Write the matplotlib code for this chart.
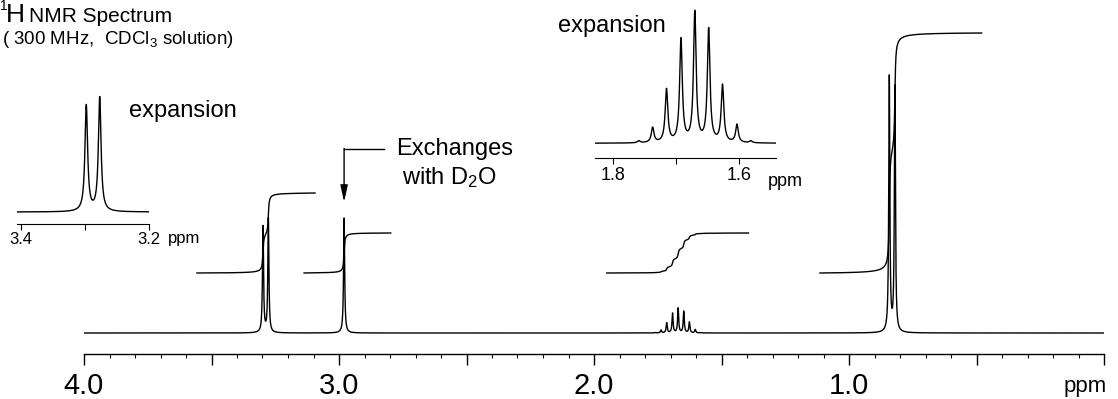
import numpy as np
import matplotlib
matplotlib.use("Agg")
import matplotlib.pyplot as plt
from matplotlib.ticker import MultipleLocator, FixedLocator, FuncFormatter

plt.rcParams['font.family'] = ['Liberation Sans', 'DejaVu Sans']
plt.rcParams['mathtext.fontset'] = 'custom'
plt.rcParams['mathtext.rm'] = 'Liberation Sans'
plt.rcParams['mathtext.it'] = 'Liberation Sans:italic'

# peak list (ppm, height in pixels above baseline)
ch2_ppm = [3.298, 3.277]
ch2_height = [106, 114]
oh_ppm = [2.980]
oh_height = [115]
ch_ppm = [1.759, 1.737, 1.715, 1.692, 1.670, 1.648, 1.626, 1.603, 1.581]
ch_height = [2, 15, 53, 103, 130, 113, 57, 18, 2]   # as seen in the expansion
ch_main_scale = 0.19                                  # main trace vs expansion
ch3_ppm = [0.842, 0.820]
ch3_height = [255, 245]
line_hw = 0.0025   # half width (ppm)

# integrals: region (ppm) and proton count
int_regions = [(3.557, 3.094), (3.137, 2.797), (1.950, 1.394), (1.114, 0.480)]
int_protons = [2, 1, 1, 6]
px_per_H = 40
int_offset = 60

W, H = 1118, 399


def lorentz(x, centers, heights, g=line_hw):
    y = np.zeros_like(x)
    for c, h in zip(centers, heights):
        y += h * g**2 / ((x - c)**2 + g**2)
    return y


def spectrum(x, ch_scale):
    y = lorentz(x, ch2_ppm, ch2_height)
    y += lorentz(x, oh_ppm, oh_height)
    y += lorentz(x, ch_ppm, np.array(ch_height) * ch_scale)
    y += lorentz(x, ch3_ppm, ch3_height)
    return y


def rect(x0, y_top, x1, y_bot):
    return [x0 / W, 1 - y_bot / H, (x1 - x0) / W, (y_bot - y_top) / H]


fig = plt.figure(figsize=(11.18, 3.99), dpi=100)

# ---- main spectrum
ax = fig.add_axes(rect(84, 0, 1104, 354))
x = np.linspace(4.0, 0.0, 40001)
y = spectrum(x, ch_main_scale)
ax.plot(x, y, 'k-', lw=1.0)

for (a, b), n in zip(int_regions, int_protons):
    m = (x <= a) & (x >= b)
    cs = np.cumsum(y[m])
    cs = cs / cs[-1]
    ax.plot(x[m], int_offset + cs * n * px_per_H, 'k-', lw=1.0)

ax.set_xlim(4.0, 0.0)
ax.set_ylim(-21, 333)
for s in ['top', 'left', 'right']:
    ax.spines[s].set_visible(False)
ax.spines['bottom'].set_linewidth(1.0)
ax.set_yticks([])
ax.xaxis.set_major_locator(MultipleLocator(0.5))
ax.xaxis.set_minor_locator(MultipleLocator(0.1))
ax.xaxis.set_major_formatter(FuncFormatter(
    lambda v, p: "%.1f" % v if abs(v - round(v)) < 1e-6 and v > 0.5 else ""))
ax.tick_params(axis='x', which='major', length=8, width=1.0, labelsize=21, pad=5)
ax.tick_params(axis='x', which='minor', length=3.2, width=0.8)
ax.patch.set_visible(False)

# arrow for the exchangeable OH
ax.plot([2.823, oh_ppm[0]], [184, 184], 'k-', lw=1.0)
ax.annotate('', xy=(oh_ppm[0], 131), xytext=(oh_ppm[0], 184.5),
            arrowprops=dict(arrowstyle='-|>,head_length=1.0,head_width=0.22',
                            color='k', lw=1.0, shrinkA=0, shrinkB=0))

# ---- expansion of the CH2 doublet
ax1 = fig.add_axes(rect(16.7, 80, 149, 224))
x1 = np.linspace(3.4067, 3.2, 4001)
ax1.plot(x1, spectrum(x1, ch_main_scale), 'k-', lw=1.0)
ax1.set_xlim(3.4067, 3.2)
ax1.set_ylim(-12, 132)

# ---- expansion of the CH multiplet
ax2 = fig.add_axes(rect(595, 0, 776, 158.3))
x2 = np.linspace(1.8286, 1.541, 4001)
ax2.plot(x2, spectrum(x2, 1.0) - spectrum(x2, 0.0), 'k-', lw=1.0)
ax2.set_xlim(1.8286, 1.541)
ax2.set_ylim(-15, 143.3)

for a_, ticks, labs, fs in [(ax1, [3.4, 3.3, 3.2], ['3.4', '', '3.2'], 12),
                            (ax2, [1.8, 1.7, 1.6], ['1.8', '', '1.6'], 13)]:
    for s in ['top', 'left', 'right']:
        a_.spines[s].set_visible(False)
    a_.spines['bottom'].set_linewidth(0.8)
    a_.set_yticks([])
    a_.xaxis.set_major_locator(FixedLocator(ticks))
    a_.set_xticklabels(labs)
    a_.tick_params(axis='x', length=4, width=0.8, labelsize=fs, pad=2)
    a_.patch.set_visible(False)

# ---- text
def ftext(px, py, s, **kw):
    fig.text(px / W, 1 - py / H, s, va='baseline', **kw)

ftext(1107, 392, 'ppm', fontsize=16, ha='right')
ftext(168, 243, 'ppm', fontsize=12)
ftext(768, 186, 'ppm', fontsize=13)
ftext(129, 117, 'expansion', fontsize=17)
ftext(558, 32, 'expansion', fontsize=17)
ftext(396, 155, 'Exchanges', fontsize=17)
ftext(402, 184, 'with D$_2$O', fontsize=17)
ftext(0, 10, '1', fontsize=10)
ftext(6, 22, 'H', fontsize=19)
ftext(29, 22, 'NMR Spectrum', fontsize=15)
ftext(2, 44, '( 300 MHz,  CDCl$_3$ solution)', fontsize=13.5)

fig.savefig('out.png', dpi=100)
